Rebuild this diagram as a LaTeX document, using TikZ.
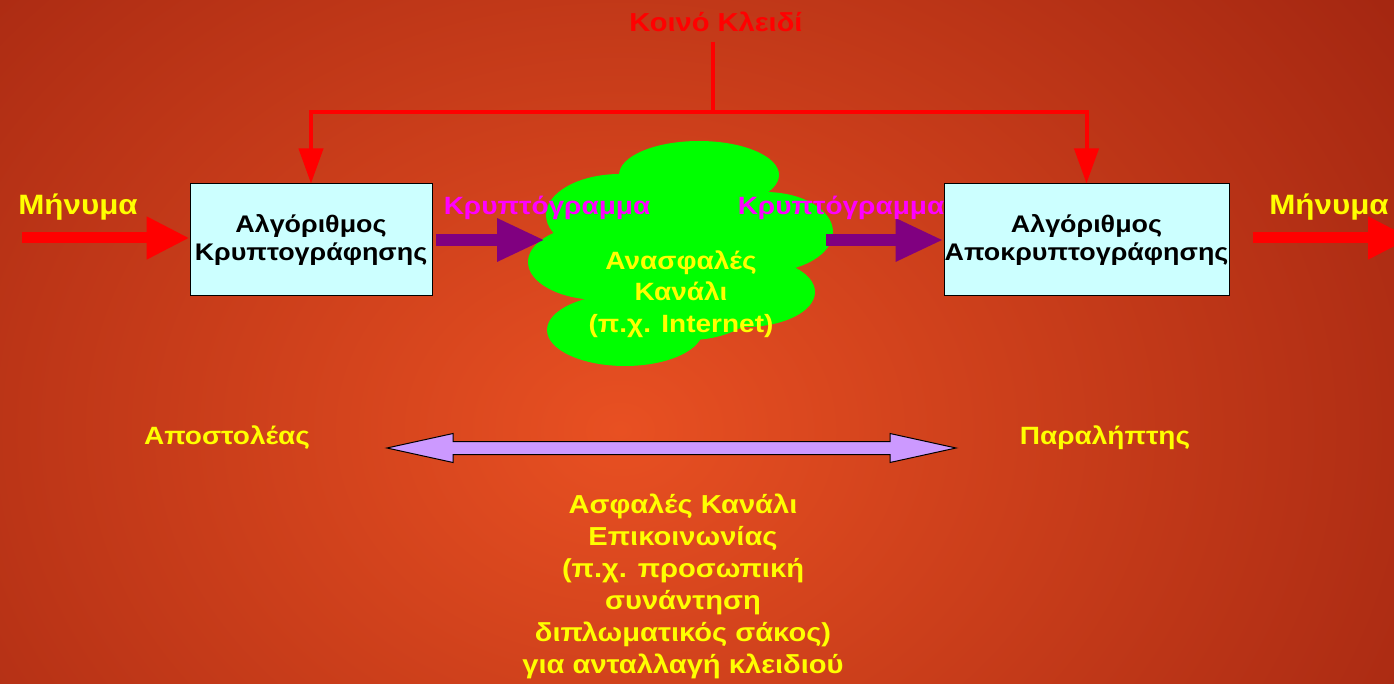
\documentclass[tikz,border=0pt]{standalone}
\usepackage{fontspec}
\setmainfont{Liberation Sans}[FakeStretch=1.12]
\usetikzlibrary{arrows.meta,calc}
\definecolor{bgIn}{RGB}{232,80,34}
\definecolor{bgOut}{RGB}{160,36,16}
\definecolor{boxfill}{RGB}{204,255,255}
\definecolor{keyred}{RGB}{255,0,0}
\definecolor{cipher}{RGB}{255,0,255}
\definecolor{pipe}{RGB}{128,0,128}
\definecolor{cloudgreen}{RGB}{0,255,0}
\definecolor{labelyellow}{RGB}{255,255,0}
\definecolor{lilac}{RGB}{204,153,255}
\begin{document}
\begin{tikzpicture}[x=1pt,y=-1pt,
  txt/.style={inner sep=0pt, font=\bfseries\fontsize{#1}{#1}\selectfont},
  txt/.default=26,
  algbox/.style={draw=black, line width=1pt, fill=boxfill, inner sep=0pt,
    align=center, font=\bfseries\fontsize{24}{28}\selectfont},
  keyline/.style={draw=keyred, line width=4pt},
  keytip/.style={-{Triangle[length=35pt,width=24pt]}},
  bigarrow/.style={line width=11pt, -{Triangle[length=43pt,width=40pt]}},
  pipearrow/.style={draw=pipe, line width=12pt, -{Triangle[length=48pt,width=40pt]}},
  yellowtext/.style={text=labelyellow, align=center},
  puff/.style={fill=cloudgreen}
]
\useasboundingbox (0,0) rectangle (1394,684);
\clip (0,0) rectangle (1394,684);
% background
\shade[inner color=bgIn, outer color=bgOut] (-380,-370) rectangle (1620,1230);

% the two algorithm boxes
\node[algbox, minimum width=242pt, minimum height=112pt] (enc) at (311,240)
  {Αλγόριθμος\\Κρυπτογράφησης};
\node[algbox, minimum width=285pt, minimum height=112pt] (dec) at (1086.5,240)
  {Αλγόριθμος\\Αποκρυπτογράφησης};

% shared key and its branches
\node[txt=26, text=keyred] (key) at (716,22) {Κοινό Κλειδί};
\coordinate (keyfork) at (713,112);
\draw[keyline] (713,42) -- (keyfork);
\draw[keyline, keytip] (keyfork) -| (enc.north);
\draw[keyline, keytip] (keyfork) -| (dec.north);

% insecure channel cloud
\fill[puff] (699,175) ellipse [x radius=80, y radius=34];
\fill[puff] (620,215) ellipse [x radius=74, y radius=41];
\fill[puff] (765,232) ellipse [x radius=68, y radius=40];
\fill[puff] (600,262) ellipse [x radius=72, y radius=38];
\fill[puff] (745,292) ellipse [x radius=70, y radius=35];
\fill[puff] (625,330) ellipse [x radius=78, y radius=36];
\fill[puff] (690,270) ellipse [x radius=90, y radius=70];
\node[txt=25, yellowtext, font=\bfseries\fontsize{25}{31.5}\selectfont] (cloud) at (681,294)
  {Ανασφαλές\\Κανάλι\\(π.χ. Internet)};
\coordinate (cloudW) at (545,240);
\coordinate (cloudE) at (826,240);

% ciphertext flow
\draw[pipearrow] (enc.east) ++(3,0) -- (cloudW);
\draw[pipearrow] (cloudE) -- (dec.west);
\node[txt=25, text=cipher] (ctL) at (547,208) {Κρυπτόγραμμα};
\node[txt=25, text=cipher] (ctR) at (841,208) {Κρυπτόγραμμα};

% plaintext in and out
\node[txt=28, text=labelyellow] (msgIn) at (78,207) {Μήνυμα};
\node[txt=28, text=labelyellow] (msgOut) at (1329,207) {Μήνυμα};
\coordinate (inStart) at (22,238);
\coordinate (outEnd) at (1411,238);
\draw[keyred, bigarrow] (inStart) -- (enc.west |- inStart);
\draw[keyred, bigarrow] (dec.east |- outEnd) ++(23,0) -- (outEnd);

% sender, receiver and the secure channel
\node[txt=25, text=labelyellow] (sender) at (227,438) {Αποστολέας};
\node[txt=25, text=labelyellow] (receiver) at (1105,438) {Παραλήπτης};
\coordinate (secL) at (387,448);
\coordinate (secR) at (956,448);
\draw[black, line width=1pt, fill=lilac, line join=miter]
  (secL) -- ($(secL)+(66,-14.5)$) -- ($(secL)+(66,-6.5)$) -- ($(secR)+(-66,-6.5)$)
  -- ($(secR)+(-66,-14.5)$) -- (secR) -- ($(secR)+(-66,14.5)$) -- ($(secR)+(-66,6.5)$)
  -- ($(secL)+(66,6.5)$) -- ($(secL)+(66,14.5)$) -- cycle;
\node[yellowtext, inner sep=0pt, font=\bfseries\fontsize{26}{32}\selectfont, anchor=north]
  (secure) at (683,494)
  {Ασφαλές Κανάλι\\Επικοινωνίας\\(π.χ. προσωπική\\συνάντηση\\διπλωματικός σάκος)\\για ανταλλαγή κλειδιού};
\end{tikzpicture}
\end{document}
